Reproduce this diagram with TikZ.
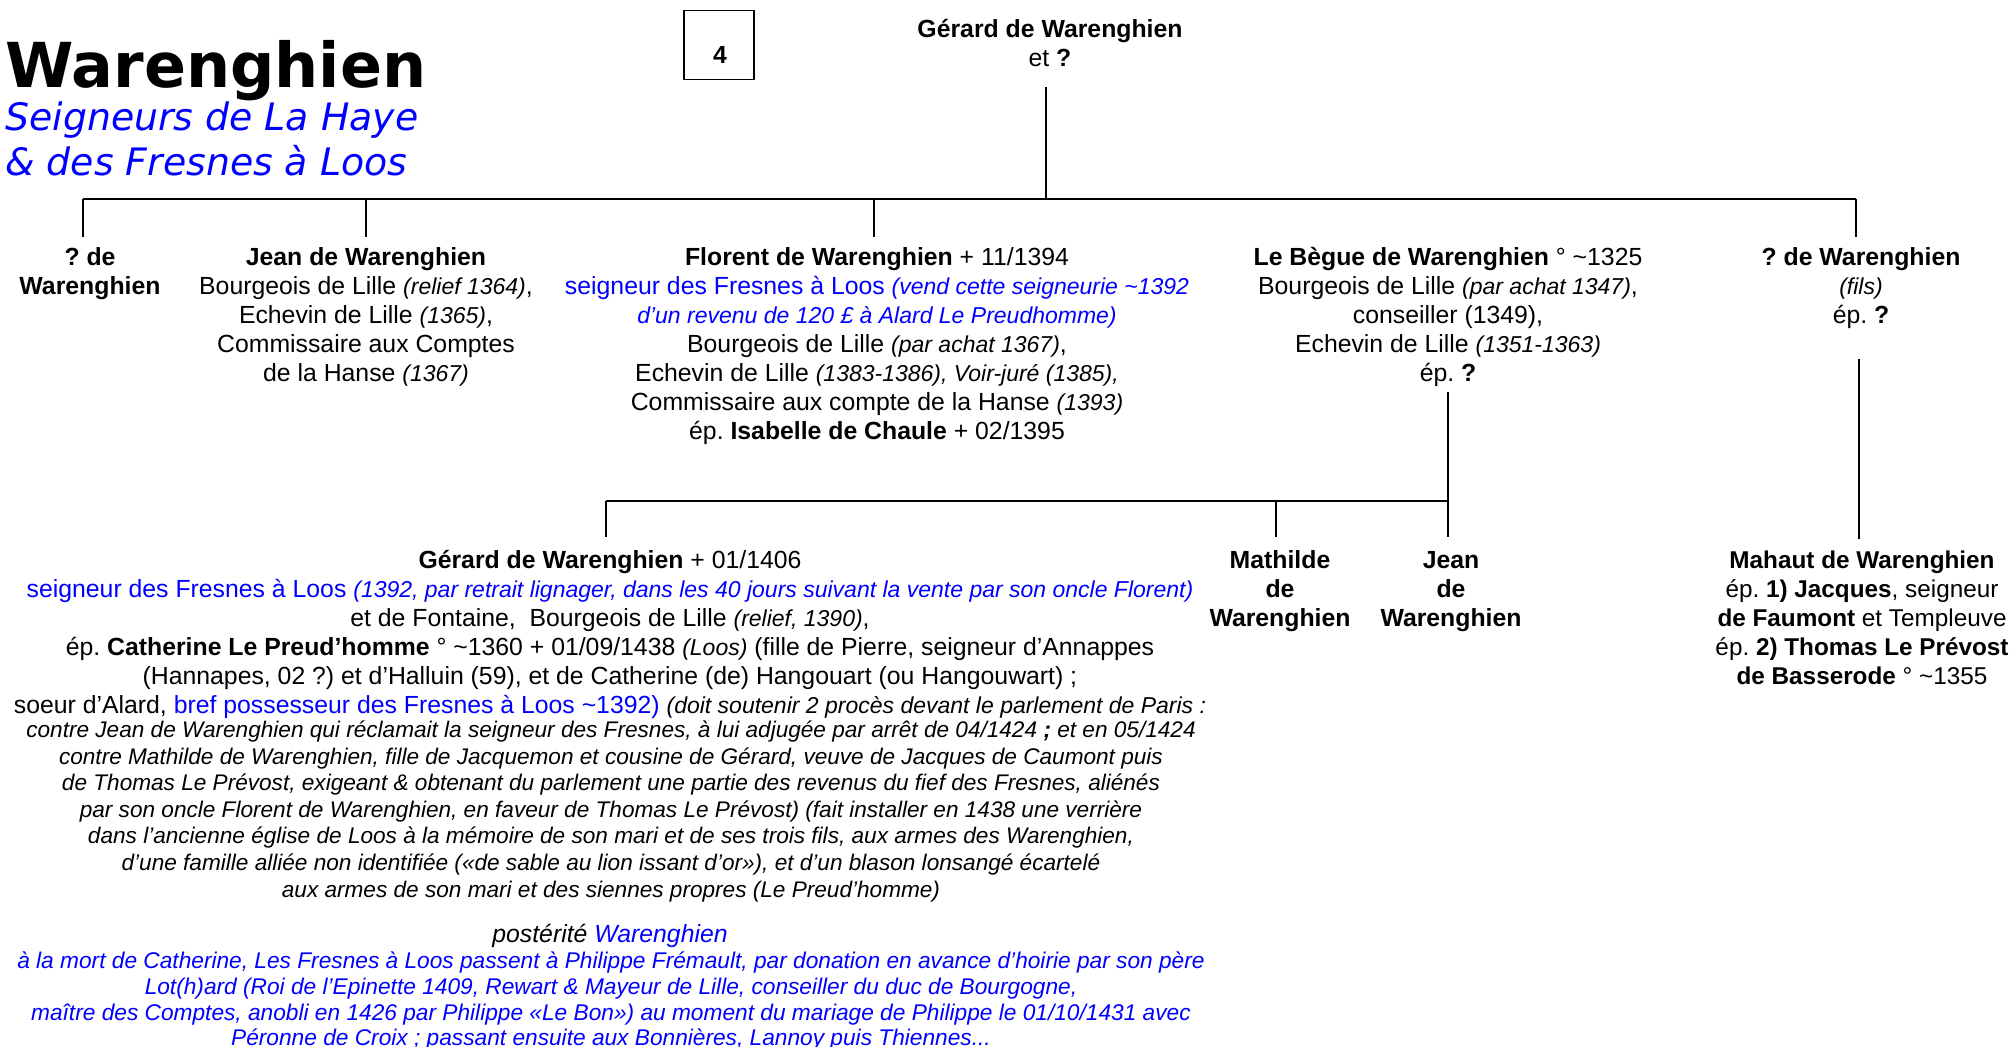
\documentclass[tikz,border=0pt]{standalone}
\usepackage{fontspec}
\setmainfont{Liberation Sans}
\newfontfamily\titlefont{DejaVu Sans}
\usepackage{xcolor}

\definecolor{lineage}{RGB}{0,0,255}
\newcommand{\ann}[1]{{\fontsize{11.5}{14.5}\selectfont\itshape #1}}
\frenchspacing

\begin{document}
\begin{tikzpicture}[x=0.5pt,y=-0.5pt]
            \tikzstyle{every node}+=[inner sep=0pt]
            \tikzstyle{famline}=[black,line width=1.35pt]
            \tikzstyle{person}=[align=center,anchor=north,font=\fontsize{12.4}{14.5}\selectfont]
            \tikzstyle{italnote}=[align=center,anchor=north,font=\fontsize{11.3}{13.3}\selectfont\itshape]
            \useasboundingbox (0,0) rectangle (2013,1047);
            % heading
            \node (title) [anchor=base west] at (5,88) {\titlefont\fontsize{31}{36}\selectfont\bfseries Warenghien};
            \node (subtitle) [anchor=north west,align=left,text=lineage,font=\titlefont\fontsize{18.9}{21}\selectfont\itshape] at (5,101) {\strut Seigneurs de La Haye\\\& des Fresnes à Loos};
            \node (pagebox) [draw,line width=0.75pt,minimum width=35pt,minimum height=34.5pt] at (719,45) {};
            \node (pagenum) [font=\fontsize{12.4}{14.5}\selectfont\bfseries] at (720,55) {4};
            % first generation
            \node (root) [person] at (1050,17.2) {\strut\textbf{Gérard de Warenghien}\\et \textbf{?}};
            \coordinate (topbar) at (0,199);
            \node (q1) [person] at (90,244.7) {\strut\textbf{? de}\\\textbf{Warenghien}};
            \node (jean) [person] at (366,244.7) {\strut\textbf{Jean de Warenghien}\\Bourgeois de Lille \ann{(relief 1364)},\\Echevin de Lille \ann{(1365)},\\Commissaire aux Comptes\\de la Hanse \ann{(1367)}};
            \node (florent) [person] at (877,244.7) {\strut\textbf{Florent de Warenghien} + 11/1394\\{\color{lineage}seigneur des Fresnes à Loos \ann{(vend cette seigneurie \textasciitilde1392}}\\{\color{lineage}\ann{d’un revenu de 120 £ à Alard Le Preudhomme)}}\\Bourgeois de Lille \ann{(par achat 1367)},\\Echevin de Lille \ann{(1383-1386), Voir-juré (1385),}\\Commissaire aux compte de la Hanse \ann{(1393)}\\ép. \textbf{Isabelle de Chaule} + 02/1395};
            \node (begue) [person] at (1448,244.7) {\strut\textbf{Le Bègue de Warenghien} ° \textasciitilde1325\\Bourgeois de Lille \ann{(par achat 1347)},\\conseiller (1349),\\Echevin de Lille \ann{(1351-1363)}\\ép. \textbf{?}};
            \node (fils) [person] at (1861,244.7) {\strut\textbf{? de Warenghien}\\\ann{(fils)}\\ép. \textbf{?}};
            % second generation
            \coordinate (midbar) at (0,501);
            \node (gerard) [person] at (610,547.7) {\strut\textbf{Gérard de Warenghien} + 01/1406\\{\color{lineage}seigneur des Fresnes à Loos \ann{(1392, par retrait lignager, dans les 40 jours suivant la vente par son oncle Florent)}}\\et de Fontaine,\ \ Bourgeois de Lille \ann{(relief, 1390)},\\ép. \textbf{Catherine Le Preud’homme} ° \textasciitilde1360 + 01/09/1438 \ann{(Loos)} (fille de Pierre, seigneur d’Annappes\\(Hannapes, 02 ?) et d’Halluin (59), et de Catherine (de) Hangouart (ou Hangouwart) ;\\soeur d’Alard, {\color{lineage}bref possesseur des Fresnes à Loos \textasciitilde1392)} \ann{(doit soutenir 2 procès devant le parlement de Paris :}};
            \node (gerardnote) [italnote] at (611,718.5) {\strut contre Jean de Warenghien qui réclamait la seigneur des Fresnes, à lui adjugée par arrêt de 04/1424 \textbf{;} et en 05/1424\\contre Mathilde de Warenghien, fille de Jacquemon et cousine de Gérard, veuve de Jacques de Caumont puis\\de Thomas Le Prévost, exigeant \& obtenant du parlement une partie des revenus du fief des Fresnes, aliénés\\par son oncle Florent de Warenghien, en faveur de Thomas Le Prévost) (fait installer en 1438 une verrière\\dans l’ancienne église de Loos à la mémoire de son mari et de ses trois fils, aux armes des Warenghien,\\d’une famille alliée non identifiée («de sable au lion issant d’or»), et d’un blason lonsangé écartelé\\aux armes de son mari et des siennes propres (Le Preud’homme)};
            \node (posterity) [person,font=\fontsize{12.4}{14.5}\selectfont\itshape] at (610,922.2) {\strut postérité {\color{lineage}Warenghien}};
            \node (heirs) [italnote,text=lineage,font=\fontsize{11.35}{12.85}\selectfont\itshape] at (611,950.5) {\strut à la mort de Catherine, Les Fresnes à Loos passent à Philippe Frémault, par donation en avance d’hoirie par son père\\Lot(h)ard (Roi de l’Epinette 1409, Rewart \& Mayeur de Lille, conseiller du duc de Bourgogne,\\maître des Comptes, anobli en 1426 par Philippe «Le Bon») au moment du mariage de Philippe le 01/10/1431 avec\\Péronne de Croix ; passant ensuite aux Bonnières, Lannoy puis Thiennes...};
            \node (mathilde) [person,font=\fontsize{12.4}{14.5}\selectfont\bfseries] at (1280,547.7) {\strut Mathilde\\de\\Warenghien};
            \node (jean2) [person,font=\fontsize{12.4}{14.5}\selectfont\bfseries] at (1451,547.7) {\strut Jean\\de\\Warenghien};
            \node (mahaut) [person,font=\fontsize{12.15}{14.5}\selectfont] at (1862,547.7) {\strut\textbf{Mahaut de Warenghien}\\ép. \textbf{1) Jacques}, seigneur\\\textbf{de Faumont} et Templeuve\\ép. \textbf{2) Thomas Le Prévost}\\\textbf{de Basserode} ° \textasciitilde1355};
            % connectors
            \draw [famline] ([xshift=-2pt,yshift=-9.5pt]root.south) -- ([xshift=-2pt]root.south |- topbar);
            \draw [famline] ([xshift=-3.5pt]q1.north |- topbar) -- ([xshift=-2.5pt]fils.north |- topbar);
            \draw [famline] ([xshift=-3.5pt]q1.north |- topbar) -- ([xshift=-3.5pt,yshift=4pt]q1.north);
            \draw [famline] (jean.north |- topbar) -- ([yshift=4pt]jean.north);
            \draw [famline] ([xshift=-1.5pt]florent.north |- topbar) -- ([xshift=-1.5pt,yshift=4pt]florent.north);
            \draw [famline] ([xshift=-2.5pt]fils.north |- topbar) -- ([xshift=-2.5pt,yshift=4pt]fils.north);
            \draw [famline] ([yshift=-2.5pt]begue.south) -- ([yshift=5.5pt]begue.south |- jean2.north);
            \draw [famline] ([xshift=-2pt]gerard.north |- midbar) -- (begue.south |- midbar);
            \draw [famline] ([xshift=-2pt]gerard.north |- midbar) -- ([xshift=-2pt,yshift=5.5pt]gerard.north);
            \draw [famline] ([xshift=-2pt]mathilde.north |- midbar) -- ([xshift=-2pt,yshift=5.5pt]mathilde.north);
            \draw [famline] ([xshift=-1pt,yshift=-15pt]fils.south) -- ([xshift=-1pt,yshift=4.5pt]fils.south |- mahaut.north);
\end{tikzpicture}
\end{document}
